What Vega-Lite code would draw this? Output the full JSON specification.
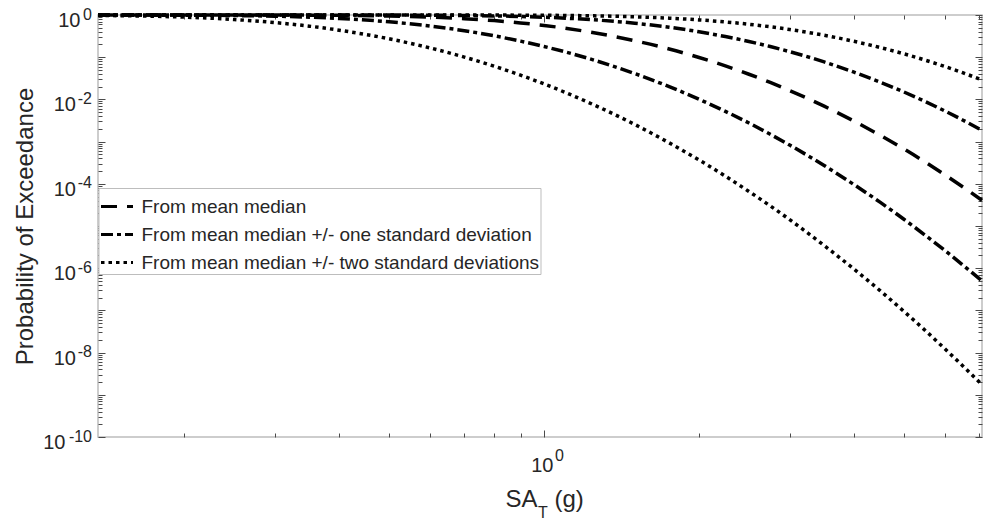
{
  "$schema": "https://vega.github.io/schema/vega-lite/v6.json",
  "width": 884,
  "height": 422,
  "autosize": {"type": "none"},
  "padding": {"left": 98, "top": 15, "right": 1, "bottom": 85},
  "background": "white",
  "config": {
    "font": "Liberation Sans",
    "view": {"stroke": "#bdbdbd", "strokeWidth": 1.5},
    "axis": {"grid": false, "domain": false, "labelColor": "#262626", "titleColor": "#262626", "tickColor": "#4a4a4a", "titleFontWeight": "normal", "labelFlush": false, "labelOverlap": false, "labelBound": false}
  },
  "data": {"values": [
    {"series": "From mean median", "curve": "median", "SA": 0.136, "P": 0.99999},
    {"series": "From mean median", "curve": "median", "SA": 0.17, "P": 0.99995},
    {"series": "From mean median", "curve": "median", "SA": 0.2, "P": 0.9998},
    {"series": "From mean median", "curve": "median", "SA": 0.25, "P": 0.9989},
    {"series": "From mean median", "curve": "median", "SA": 0.3, "P": 0.9964},
    {"series": "From mean median", "curve": "median", "SA": 0.35, "P": 0.991},
    {"series": "From mean median", "curve": "median", "SA": 0.4, "P": 0.9815},
    {"series": "From mean median", "curve": "median", "SA": 0.5, "P": 0.9472},
    {"series": "From mean median", "curve": "median", "SA": 0.6, "P": 0.8917},
    {"series": "From mean median", "curve": "median", "SA": 0.7, "P": 0.8194},
    {"series": "From mean median", "curve": "median", "SA": 0.8, "P": 0.7363},
    {"series": "From mean median", "curve": "median", "SA": 0.9, "P": 0.65},
    {"series": "From mean median", "curve": "median", "SA": 1.0, "P": 0.5655},
    {"series": "From mean median", "curve": "median", "SA": 1.1, "P": 0.4861},
    {"series": "From mean median", "curve": "median", "SA": 1.25, "P": 0.3797},
    {"series": "From mean median", "curve": "median", "SA": 1.5, "P": 0.2458},
    {"series": "From mean median", "curve": "median", "SA": 1.75, "P": 0.1566},
    {"series": "From mean median", "curve": "median", "SA": 2.0, "P": 0.0985},
    {"series": "From mean median", "curve": "median", "SA": 2.25, "P": 0.0622},
    {"series": "From mean median", "curve": "median", "SA": 2.5, "P": 0.03943},
    {"series": "From mean median", "curve": "median", "SA": 2.75, "P": 0.02521},
    {"series": "From mean median", "curve": "median", "SA": 3.0, "P": 0.0162},
    {"series": "From mean median", "curve": "median", "SA": 3.5, "P": 0.0069},
    {"series": "From mean median", "curve": "median", "SA": 4.0, "P": 0.00305},
    {"series": "From mean median", "curve": "median", "SA": 4.5, "P": 0.001402},
    {"series": "From mean median", "curve": "median", "SA": 5.0, "P": 0.000668},
    {"series": "From mean median", "curve": "median", "SA": 5.5, "P": 0.000327},
    {"series": "From mean median", "curve": "median", "SA": 6.0, "P": 0.0001644},
    {"series": "From mean median", "curve": "median", "SA": 6.5, "P": 0.0000853},
    {"series": "From mean median", "curve": "median", "SA": 7.09, "P": 0.0000406},

    {"series": "From mean median +/- one standard deviation", "curve": "plus1", "SA": 0.136, "P": 0.99999},
    {"series": "From mean median +/- one standard deviation", "curve": "plus1", "SA": 0.17, "P": 0.99999},
    {"series": "From mean median +/- one standard deviation", "curve": "plus1", "SA": 0.2, "P": 0.99999},
    {"series": "From mean median +/- one standard deviation", "curve": "plus1", "SA": 0.25, "P": 0.99998},
    {"series": "From mean median +/- one standard deviation", "curve": "plus1", "SA": 0.3, "P": 0.9999},
    {"series": "From mean median +/- one standard deviation", "curve": "plus1", "SA": 0.35, "P": 0.99967},
    {"series": "From mean median +/- one standard deviation", "curve": "plus1", "SA": 0.4, "P": 0.99911},
    {"series": "From mean median +/- one standard deviation", "curve": "plus1", "SA": 0.5, "P": 0.99606},
    {"series": "From mean median +/- one standard deviation", "curve": "plus1", "SA": 0.6, "P": 0.98855},
    {"series": "From mean median +/- one standard deviation", "curve": "plus1", "SA": 0.7, "P": 0.97453},
    {"series": "From mean median +/- one standard deviation", "curve": "plus1", "SA": 0.8, "P": 0.95264},
    {"series": "From mean median +/- one standard deviation", "curve": "plus1", "SA": 0.9, "P": 0.92277},
    {"series": "From mean median +/- one standard deviation", "curve": "plus1", "SA": 1.0, "P": 0.88572},
    {"series": "From mean median +/- one standard deviation", "curve": "plus1", "SA": 1.1, "P": 0.84226},
    {"series": "From mean median +/- one standard deviation", "curve": "plus1", "SA": 1.25, "P": 0.76913},
    {"series": "From mean median +/- one standard deviation", "curve": "plus1", "SA": 1.5, "P": 0.63833},
    {"series": "From mean median +/- one standard deviation", "curve": "plus1", "SA": 1.75, "P": 0.51237},
    {"series": "From mean median +/- one standard deviation", "curve": "plus1", "SA": 2.0, "P": 0.4006},
    {"series": "From mean median +/- one standard deviation", "curve": "plus1", "SA": 2.25, "P": 0.3088},
    {"series": "From mean median +/- one standard deviation", "curve": "plus1", "SA": 2.5, "P": 0.2359},
    {"series": "From mean median +/- one standard deviation", "curve": "plus1", "SA": 2.75, "P": 0.1791},
    {"series": "From mean median +/- one standard deviation", "curve": "plus1", "SA": 3.0, "P": 0.1353},
    {"series": "From mean median +/- one standard deviation", "curve": "plus1", "SA": 3.5, "P": 0.07738},
    {"series": "From mean median +/- one standard deviation", "curve": "plus1", "SA": 4.0, "P": 0.04418},
    {"series": "From mean median +/- one standard deviation", "curve": "plus1", "SA": 4.5, "P": 0.02557},
    {"series": "From mean median +/- one standard deviation", "curve": "plus1", "SA": 5.0, "P": 0.015},
    {"series": "From mean median +/- one standard deviation", "curve": "plus1", "SA": 5.5, "P": 0.0089},
    {"series": "From mean median +/- one standard deviation", "curve": "plus1", "SA": 6.0, "P": 0.00534},
    {"series": "From mean median +/- one standard deviation", "curve": "plus1", "SA": 6.5, "P": 0.00326},
    {"series": "From mean median +/- one standard deviation", "curve": "plus1", "SA": 7.09, "P": 0.00185},

    {"series": "From mean median +/- one standard deviation", "curve": "minus1", "SA": 0.136, "P": 0.99914},
    {"series": "From mean median +/- one standard deviation", "curve": "minus1", "SA": 0.17, "P": 0.99634},
    {"series": "From mean median +/- one standard deviation", "curve": "minus1", "SA": 0.2, "P": 0.99064},
    {"series": "From mean median +/- one standard deviation", "curve": "minus1", "SA": 0.25, "P": 0.97122},
    {"series": "From mean median +/- one standard deviation", "curve": "minus1", "SA": 0.3, "P": 0.9369},
    {"series": "From mean median +/- one standard deviation", "curve": "minus1", "SA": 0.35, "P": 0.8882},
    {"series": "From mean median +/- one standard deviation", "curve": "minus1", "SA": 0.4, "P": 0.8274},
    {"series": "From mean median +/- one standard deviation", "curve": "minus1", "SA": 0.5, "P": 0.6887},
    {"series": "From mean median +/- one standard deviation", "curve": "minus1", "SA": 0.6, "P": 0.5486},
    {"series": "From mean median +/- one standard deviation", "curve": "minus1", "SA": 0.7, "P": 0.4244},
    {"series": "From mean median +/- one standard deviation", "curve": "minus1", "SA": 0.8, "P": 0.3209},
    {"series": "From mean median +/- one standard deviation", "curve": "minus1", "SA": 0.9, "P": 0.2405},
    {"series": "From mean median +/- one standard deviation", "curve": "minus1", "SA": 1.0, "P": 0.1794},
    {"series": "From mean median +/- one standard deviation", "curve": "minus1", "SA": 1.1, "P": 0.1334},
    {"series": "From mean median +/- one standard deviation", "curve": "minus1", "SA": 1.25, "P": 0.0855},
    {"series": "From mean median +/- one standard deviation", "curve": "minus1", "SA": 1.5, "P": 0.04094},
    {"series": "From mean median +/- one standard deviation", "curve": "minus1", "SA": 1.75, "P": 0.02007},
    {"series": "From mean median +/- one standard deviation", "curve": "minus1", "SA": 2.0, "P": 0.01007},
    {"series": "From mean median +/- one standard deviation", "curve": "minus1", "SA": 2.25, "P": 0.0052},
    {"series": "From mean median +/- one standard deviation", "curve": "minus1", "SA": 2.5, "P": 0.002754},
    {"series": "From mean median +/- one standard deviation", "curve": "minus1", "SA": 2.75, "P": 0.00149},
    {"series": "From mean median +/- one standard deviation", "curve": "minus1", "SA": 3.0, "P": 0.000827},
    {"series": "From mean median +/- one standard deviation", "curve": "minus1", "SA": 3.5, "P": 0.000271},
    {"series": "From mean median +/- one standard deviation", "curve": "minus1", "SA": 4.0, "P": 0.0000956},
    {"series": "From mean median +/- one standard deviation", "curve": "minus1", "SA": 4.5, "P": 0.0000362},
    {"series": "From mean median +/- one standard deviation", "curve": "minus1", "SA": 5.0, "P": 0.00001443},
    {"series": "From mean median +/- one standard deviation", "curve": "minus1", "SA": 5.5, "P": 0.00000603},
    {"series": "From mean median +/- one standard deviation", "curve": "minus1", "SA": 6.0, "P": 0.000002645},
    {"series": "From mean median +/- one standard deviation", "curve": "minus1", "SA": 6.5, "P": 0.000001202},
    {"series": "From mean median +/- one standard deviation", "curve": "minus1", "SA": 7.09, "P": 0.000000499},

    {"series": "From mean median +/- two standard deviations", "curve": "plus2", "SA": 0.136, "P": 0.99999},
    {"series": "From mean median +/- two standard deviations", "curve": "plus2", "SA": 0.17, "P": 0.99999},
    {"series": "From mean median +/- two standard deviations", "curve": "plus2", "SA": 0.2, "P": 0.99999},
    {"series": "From mean median +/- two standard deviations", "curve": "plus2", "SA": 0.25, "P": 0.99999},
    {"series": "From mean median +/- two standard deviations", "curve": "plus2", "SA": 0.3, "P": 0.99999},
    {"series": "From mean median +/- two standard deviations", "curve": "plus2", "SA": 0.35, "P": 0.99999},
    {"series": "From mean median +/- two standard deviations", "curve": "plus2", "SA": 0.4, "P": 0.99997},
    {"series": "From mean median +/- two standard deviations", "curve": "plus2", "SA": 0.5, "P": 0.99984},
    {"series": "From mean median +/- two standard deviations", "curve": "plus2", "SA": 0.6, "P": 0.99935},
    {"series": "From mean median +/- two standard deviations", "curve": "plus2", "SA": 0.7, "P": 0.99812},
    {"series": "From mean median +/- two standard deviations", "curve": "plus2", "SA": 0.8, "P": 0.99562},
    {"series": "From mean median +/- two standard deviations", "curve": "plus2", "SA": 0.9, "P": 0.99125},
    {"series": "From mean median +/- two standard deviations", "curve": "plus2", "SA": 1.0, "P": 0.98457},
    {"series": "From mean median +/- two standard deviations", "curve": "plus2", "SA": 1.1, "P": 0.97512},
    {"series": "From mean median +/- two standard deviations", "curve": "plus2", "SA": 1.25, "P": 0.95516},
    {"series": "From mean median +/- two standard deviations", "curve": "plus2", "SA": 1.5, "P": 0.90658},
    {"series": "From mean median +/- two standard deviations", "curve": "plus2", "SA": 1.75, "P": 0.84157},
    {"series": "From mean median +/- two standard deviations", "curve": "plus2", "SA": 2.0, "P": 0.76547},
    {"series": "From mean median +/- two standard deviations", "curve": "plus2", "SA": 2.25, "P": 0.68439},
    {"series": "From mean median +/- two standard deviations", "curve": "plus2", "SA": 2.5, "P": 0.60334},
    {"series": "From mean median +/- two standard deviations", "curve": "plus2", "SA": 2.75, "P": 0.52591},
    {"series": "From mean median +/- two standard deviations", "curve": "plus2", "SA": 3.0, "P": 0.4527},
    {"series": "From mean median +/- two standard deviations", "curve": "plus2", "SA": 3.5, "P": 0.3314},
    {"series": "From mean median +/- two standard deviations", "curve": "plus2", "SA": 4.0, "P": 0.2377},
    {"series": "From mean median +/- two standard deviations", "curve": "plus2", "SA": 4.5, "P": 0.1694},
    {"series": "From mean median +/- two standard deviations", "curve": "plus2", "SA": 5.0, "P": 0.1204},
    {"series": "From mean median +/- two standard deviations", "curve": "plus2", "SA": 5.5, "P": 0.0852},
    {"series": "From mean median +/- two standard deviations", "curve": "plus2", "SA": 6.0, "P": 0.0604},
    {"series": "From mean median +/- two standard deviations", "curve": "plus2", "SA": 6.5, "P": 0.0429},
    {"series": "From mean median +/- two standard deviations", "curve": "plus2", "SA": 7.09, "P": 0.02885},

    {"series": "From mean median +/- two standard deviations", "curve": "minus2", "SA": 0.136, "P": 0.97725},
    {"series": "From mean median +/- two standard deviations", "curve": "minus2", "SA": 0.17, "P": 0.93991},
    {"series": "From mean median +/- two standard deviations", "curve": "minus2", "SA": 0.2, "P": 0.89028},
    {"series": "From mean median +/- two standard deviations", "curve": "minus2", "SA": 0.25, "P": 0.7829},
    {"series": "From mean median +/- two standard deviations", "curve": "minus2", "SA": 0.3, "P": 0.66203},
    {"series": "From mean median +/- two standard deviations", "curve": "minus2", "SA": 0.35, "P": 0.5438},
    {"series": "From mean median +/- two standard deviations", "curve": "minus2", "SA": 0.4, "P": 0.4362},
    {"series": "From mean median +/- two standard deviations", "curve": "minus2", "SA": 0.5, "P": 0.2729},
    {"series": "From mean median +/- two standard deviations", "curve": "minus2", "SA": 0.6, "P": 0.1662},
    {"series": "From mean median +/- two standard deviations", "curve": "minus2", "SA": 0.7, "P": 0.1006},
    {"series": "From mean median +/- two standard deviations", "curve": "minus2", "SA": 0.8, "P": 0.0611},
    {"series": "From mean median +/- two standard deviations", "curve": "minus2", "SA": 0.9, "P": 0.03749},
    {"series": "From mean median +/- two standard deviations", "curve": "minus2", "SA": 1.0, "P": 0.02327},
    {"series": "From mean median +/- two standard deviations", "curve": "minus2", "SA": 1.1, "P": 0.01457},
    {"series": "From mean median +/- two standard deviations", "curve": "minus2", "SA": 1.25, "P": 0.00741},
    {"series": "From mean median +/- two standard deviations", "curve": "minus2", "SA": 1.5, "P": 0.002547},
    {"series": "From mean median +/- two standard deviations", "curve": "minus2", "SA": 1.75, "P": 0.000934},
    {"series": "From mean median +/- two standard deviations", "curve": "minus2", "SA": 2.0, "P": 0.000367},
    {"series": "From mean median +/- two standard deviations", "curve": "minus2", "SA": 2.25, "P": 0.0001517},
    {"series": "From mean median +/- two standard deviations", "curve": "minus2", "SA": 2.5, "P": 0.00006575},
    {"series": "From mean median +/- two standard deviations", "curve": "minus2", "SA": 2.75, "P": 0.00003},
    {"series": "From mean median +/- two standard deviations", "curve": "minus2", "SA": 3.0, "P": 0.00001412},
    {"series": "From mean median +/- two standard deviations", "curve": "minus2", "SA": 3.5, "P": 0.00000344},
    {"series": "From mean median +/- two standard deviations", "curve": "minus2", "SA": 4.0, "P": 0.00000095},
    {"series": "From mean median +/- two standard deviations", "curve": "minus2", "SA": 4.5, "P": 0.00000029},
    {"series": "From mean median +/- two standard deviations", "curve": "minus2", "SA": 5.0, "P": 0.0000000948},
    {"series": "From mean median +/- two standard deviations", "curve": "minus2", "SA": 5.5, "P": 0.0000000335},
    {"series": "From mean median +/- two standard deviations", "curve": "minus2", "SA": 6.0, "P": 0.0000000124},
    {"series": "From mean median +/- two standard deviations", "curve": "minus2", "SA": 6.5, "P": 0.00000000489},
    {"series": "From mean median +/- two standard deviations", "curve": "minus2", "SA": 7.09, "P": 0.000000001735}
  ]},
  "resolve": {"axis": {"x": "independent", "y": "independent"}},
  "layer": [
    {
      "mark": {"type": "point", "opacity": 0},
      "encoding": {
        "x": {"field": "SA", "type": "quantitative", "scale": {"type": "log", "domain": [0.136, 7.09], "nice": false},
              "axis": {"orient": "bottom", "values": [1], "labels": false, "domain": false, "tickSize": -7, "tickWidth": 1, "title": null}},
        "y": {"field": "P", "type": "quantitative", "scale": {"type": "log", "domain": [1e-10, 1], "nice": false},
              "axis": {"orient": "left", "values": [1, 0.1, 0.01, 0.001, 1e-4, 1e-5, 1e-6, 1e-7, 1e-8, 1e-9, 1e-10], "labels": false, "domain": false, "tickSize": -7, "tickWidth": 1, "title": null}}
      }
    },
    {
      "mark": {"type": "point", "opacity": 0},
      "encoding": {
        "x": {"field": "SA", "type": "quantitative", "scale": {"type": "log", "domain": [0.136, 7.09], "nice": false},
              "axis": {"orient": "bottom", "values": [0.2, 0.3, 0.4, 0.5, 0.6, 0.7, 0.8, 0.9, 2, 3, 4, 5, 6, 7], "labels": false, "domain": false, "tickSize": -4, "tickWidth": 1, "title": null}},
        "y": {"field": "P", "type": "quantitative", "scale": {"type": "log", "domain": [1e-10, 1], "nice": false},
              "axis": {"orient": "left", "values": [2e-10,3e-10,4e-10,5e-10,6e-10,7e-10,8e-10,9e-10,2e-9,3e-9,4e-9,5e-9,6e-9,7e-9,8e-9,9e-9,2e-8,3e-8,4e-8,5e-8,6e-8,7e-8,8e-8,9e-8,2e-7,3e-7,4e-7,5e-7,6e-7,7e-7,8e-7,9e-7,2e-6,3e-6,4e-6,5e-6,6e-6,7e-6,8e-6,9e-6,2e-5,3e-5,4e-5,5e-5,6e-5,7e-5,8e-5,9e-5,2e-4,3e-4,4e-4,5e-4,6e-4,7e-4,8e-4,9e-4,0.002,0.003,0.004,0.005,0.006,0.007,0.008,0.009,0.02,0.03,0.04,0.05,0.06,0.07,0.08,0.09,0.2,0.3,0.4,0.5,0.6,0.7,0.8,0.9], "labels": false, "domain": false, "tickSize": -4, "tickWidth": 1, "title": null}}
      }
    },
    {
      "mark": {"type": "point", "opacity": 0},
      "encoding": {
        "x": {"field": "SA", "type": "quantitative", "scale": {"type": "log", "domain": [0.136, 7.09], "nice": false},
              "axis": {"orient": "top", "values": [1], "labels": false, "domain": false, "tickSize": -7, "tickWidth": 1, "title": null}},
        "y": {"field": "P", "type": "quantitative", "scale": {"type": "log", "domain": [1e-10, 1], "nice": false},
              "axis": {"orient": "right", "values": [1, 0.1, 0.01, 0.001, 1e-4, 1e-5, 1e-6, 1e-7, 1e-8, 1e-9, 1e-10], "labels": false, "domain": false, "tickSize": -7, "tickWidth": 1, "title": null}}
      }
    },
    {
      "mark": {"type": "point", "opacity": 0},
      "encoding": {
        "x": {"field": "SA", "type": "quantitative", "scale": {"type": "log", "domain": [0.136, 7.09], "nice": false},
              "axis": {"orient": "top", "values": [0.2, 0.3, 0.4, 0.5, 0.6, 0.7, 0.8, 0.9, 2, 3, 4, 5, 6, 7], "labels": false, "domain": false, "tickSize": -4, "tickWidth": 1, "title": null}},
        "y": {"field": "P", "type": "quantitative", "scale": {"type": "log", "domain": [1e-10, 1], "nice": false},
              "axis": {"orient": "right", "values": [2e-10,3e-10,4e-10,5e-10,6e-10,7e-10,8e-10,9e-10,2e-9,3e-9,4e-9,5e-9,6e-9,7e-9,8e-9,9e-9,2e-8,3e-8,4e-8,5e-8,6e-8,7e-8,8e-8,9e-8,2e-7,3e-7,4e-7,5e-7,6e-7,7e-7,8e-7,9e-7,2e-6,3e-6,4e-6,5e-6,6e-6,7e-6,8e-6,9e-6,2e-5,3e-5,4e-5,5e-5,6e-5,7e-5,8e-5,9e-5,2e-4,3e-4,4e-4,5e-4,6e-4,7e-4,8e-4,9e-4,0.002,0.003,0.004,0.005,0.006,0.007,0.008,0.009,0.02,0.03,0.04,0.05,0.06,0.07,0.08,0.09,0.2,0.3,0.4,0.5,0.6,0.7,0.8,0.9], "labels": false, "domain": false, "tickSize": -4, "tickWidth": 1, "title": null}}
      }
    },
    {
      "mark": {"type": "point", "opacity": 0},
      "encoding": {
        "x": {"field": "SA", "type": "quantitative", "scale": {"type": "log", "domain": [0.136, 7.09], "nice": false},
              "axis": {"orient": "bottom", "values": [1], "ticks": false, "domain": false, "labelExpr": "'0'", "labelFontSize": 16, "labelPadding": 18.5, "labelOffset": 15, "labelBaseline": "middle", "labelAlign": "center", "title": null}},
        "y": {"field": "P", "type": "quantitative", "scale": {"type": "log", "domain": [1e-10, 1], "nice": false},
              "axis": {"orient": "left", "values": [1, 0.01, 1e-4, 1e-6, 1e-8, 1e-10], "ticks": false, "domain": false, "labelExpr": "'' + round(log(datum.value) / LN10)", "labelFontSize": 16, "labelPadding": 6.5, "labelOffset": -1, "labelBaseline": "middle", "labelAlign": "right", "title": null}}
      }
    },
    {
      "mark": {"type": "point", "opacity": 0},
      "encoding": {
        "x": {"field": "SA", "type": "quantitative", "scale": {"type": "log", "domain": [0.136, 7.09], "nice": false},
              "axis": {"orient": "bottom", "values": [], "ticks": false, "labels": false, "domain": false, "title": "T", "titleFontSize": 16, "titleX": 439.5, "titleY": 80, "titleAlign": "left", "titleBaseline": "alphabetic", "titleAngle": 0}},
        "y": {"field": "P", "type": "quantitative", "scale": {"type": "log", "domain": [1e-10, 1], "nice": false},
              "axis": {"orient": "left", "values": [1e-10], "ticks": false, "domain": false, "labelExpr": "'10'", "labelFontSize": 20, "labelPadding": 33, "labelOffset": 5.5, "labelBaseline": "middle", "labelAlign": "right", "title": null}}
      }
    },
    {
      "mark": {"type": "point", "opacity": 0},
      "encoding": {
        "x": {"field": "SA", "type": "quantitative", "scale": {"type": "log", "domain": [0.136, 7.09], "nice": false},
              "axis": {"orient": "bottom", "values": [], "ticks": false, "labels": false, "domain": false, "title": "(g)", "titleFontSize": 24, "titleX": 456, "titleY": 69, "titleAlign": "left", "titleBaseline": "alphabetic", "titleAngle": 0}},
        "y": {"field": "P", "type": "quantitative", "scale": {"type": "log", "domain": [1e-10, 1], "nice": false},
              "axis": {"orient": "left", "values": [1], "ticks": false, "domain": false, "labelExpr": "'10'", "labelFontSize": 20, "labelPadding": 18, "labelOffset": 5.5, "labelBaseline": "middle", "labelAlign": "right", "title": null}}
      }
    },
    {
      "mark": {"type": "line", "color": "black", "strokeWidth": 3.5, "strokeCap": "butt", "interpolate": "monotone"},
      "encoding": {
        "x": {"field": "SA", "type": "quantitative", "scale": {"type": "log", "domain": [0.136, 7.09], "nice": false},
              "axis": {"orient": "bottom", "values": [1], "ticks": false, "domain": false, "labelExpr": "'10'", "labelFontSize": 20, "labelPadding": 28.5, "labelOffset": -2.3, "labelBaseline": "middle", "labelAlign": "center",
                       "title": "SA", "titleFontSize": 24, "titleX": 439, "titleY": 69, "titleAlign": "right", "titleBaseline": "alphabetic", "titleAngle": 0}},
        "y": {"field": "P", "type": "quantitative", "scale": {"type": "log", "domain": [1e-10, 1], "nice": false},
              "axis": {"orient": "left", "values": [0.01, 1e-4, 1e-6, 1e-8], "ticks": false, "domain": false,
                       "labelExpr": "'10'", "labelFontSize": 20, "labelPadding": 22.5, "labelOffset": 5.5, "labelBaseline": "middle", "labelAlign": "right",
                       "title": "Probability of Exceedance", "titleFontSize": 24, "titleX": -66, "titleY": 211, "titleAngle": -90, "titleAlign": "center", "titleBaseline": "alphabetic"}},
        "strokeDash": {"field": "series", "type": "nominal",
          "scale": {"domain": ["From mean median", "From mean median +/- one standard deviation", "From mean median +/- two standard deviations"], "range": [[16, 10], [12, 4, 4, 4], [3.5, 4]]},
          "legend": {"title": null, "orient": "none", "legendX": 0.5, "legendY": 173, "symbolType": "stroke", "symbolSize": 1024, "symbolStrokeWidth": 3, "symbolStrokeColor": "black", "symbolOpacity": 1,
                     "labelFontSize": 19, "labelColor": "#262626", "labelOffset": 7, "labelLimit": 600, "padding": 1, "rowPadding": -9, "fillColor": "white", "strokeColor": "#bdbdbd", "cornerRadius": 0}},
        "detail": {"field": "curve", "type": "nominal"}
      }
    }
  ]
}
